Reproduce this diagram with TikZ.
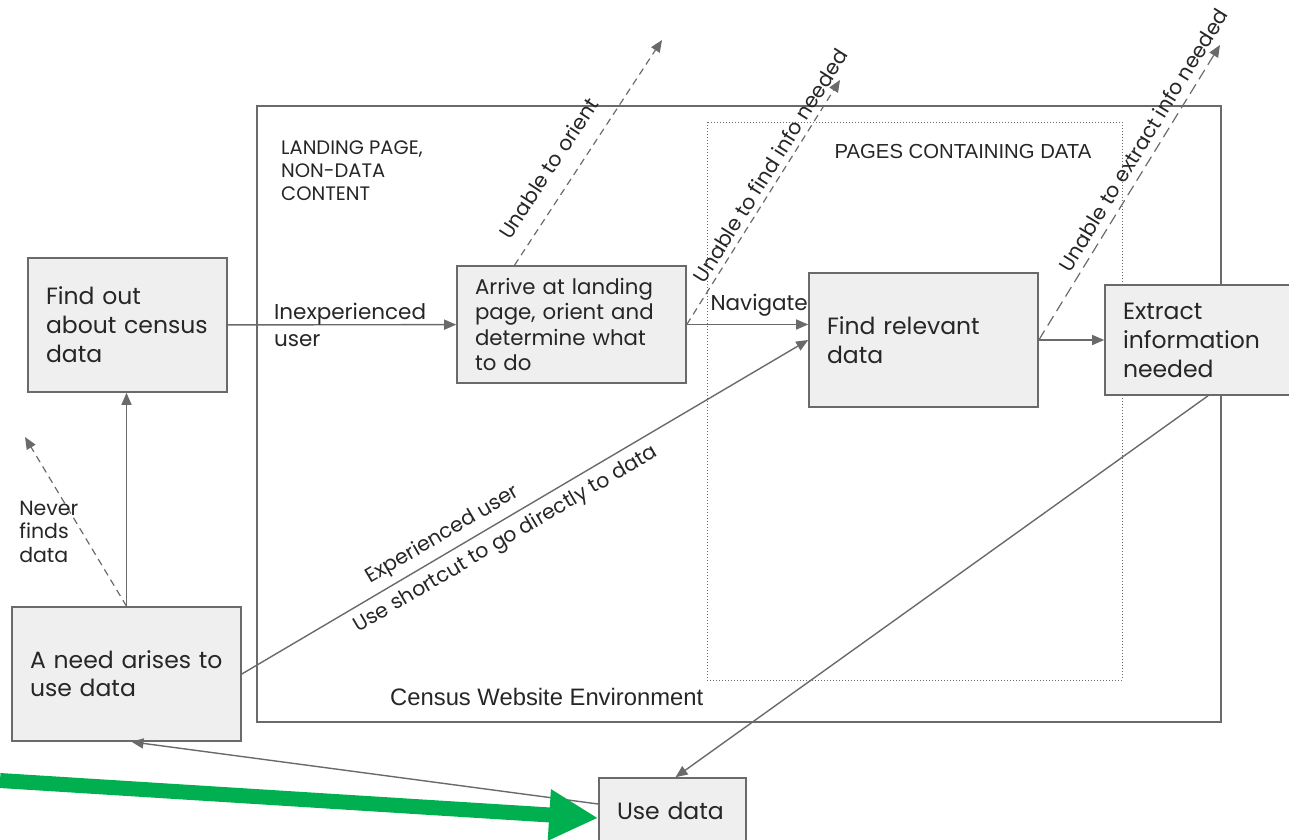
\documentclass[tikz,border=0pt]{standalone}
\usepackage{fontspec}
\setmainfont{Poppins}
\newfontfamily\arialfont{Liberation Sans}
\usetikzlibrary{arrows.meta,positioning}
\definecolor{boxfill}{HTML}{EFEFEF}
\definecolor{linegray}{HTML}{6A6A6A}
\definecolor{arrowgreen}{HTML}{00B050}
\begin{document}
\begin{tikzpicture}[x=1pt,y=-1pt,
  stepbox/.style={draw=linegray,line width=1.6pt,fill=boxfill,align=left,inner xsep=18pt,inner ysep=0pt,text=black!85,font=\fontsize{23.5}{29}\selectfont},
  flow/.style={draw=linegray,line width=1.4pt,-{Triangle[length=12pt,width=10pt]}},
  fail/.style={flow,line width=1.2pt,dash pattern=on 7pt off 5pt},
  tag/.style={text=black!85,font=\fontsize{21.5}{27}\selectfont},
  slant/.style={text=black!85,font=\fontsize{20.5}{23.5}\selectfont}]
\useasboundingbox (0,0) rectangle (1289,839);
\draw[linegray,line width=1.6pt] (257,106) rectangle (1221,722);
\draw[linegray,dotted,line width=1pt] (707,122) rectangle (1122,680);
\node[slant,align=left,anchor=north west,inner sep=0pt,font=\fontsize{19.5}{23}\selectfont] (landing) at (281,141) {LANDING PAGE,\\NON-DATA\\CONTENT};
\node[text=black!85,font=\arialfont\fontsize{20.3}{24}\selectfont] (pages) at (963,152) {PAGES CONTAINING DATA};
\node[text=black!85,font=\arialfont\fontsize{23.8}{28}\selectfont,anchor=west,inner sep=0pt] (website) at (390,697) {Census Website Environment};

\node[stepbox,text width=163pt,minimum height=134pt] (find) at (127.5,325) {Find out\\about census\\data};
\node[stepbox,text width=193pt,minimum height=117pt,font=\fontsize{21.3}{25.5}\selectfont] (arrive) at (571.5,324.5) {Arrive at landing\\page, orient and\\determine what\\to do};
\node[stepbox,text width=193pt,minimum height=134pt] (relevant) at (923.5,340) {Find relevant\\data};
\node[stepbox,text width=154pt,minimum height=110pt] (extract) at (1200,340) {Extract\\information\\needed};
\node[stepbox,text width=193pt,minimum height=134pt,font=\fontsize{23.5}{28}\selectfont] (need) at (126.5,674) {A need arises to\\use data};
\node[stepbox,text width=111pt,minimum height=66pt] (use) at (672.5,811) {Use data};

\coordinate (lost) at (25,437);
\coordinate (orientend) at (662,40);
\coordinate (findend) at (840,80);
\coordinate (extractend) at (1220,45);
\coordinate (greenstart) at (0,780.5);

\draw[flow] (find) -- node[tag,pos=0.2,anchor=west,align=left,inner sep=0pt] {Inexperienced\\user} (arrive);
\draw[flow] (arrive.east) -- node[tag,pos=0.19,anchor=south west,inner sep=0pt,yshift=8pt] {Navigate} (arrive.east -| relevant.west);
\draw[flow] (relevant) -- (extract);
\draw[flow] ([xshift=8pt]extract.south) -- ([xshift=3pt]use.north);
\draw[flow] ([yshift=7pt]use.west) -- ([xshift=5pt]need.south);
\draw[flow] (need.north) -- (need.north |- find.south);
\draw[flow] (need.east) -- node[slant,pos=0.37,above=3pt,sloped] {Experienced user} node[slant,pos=0.45,below=4pt,sloped] {Use shortcut to go directly to data} (relevant.west);

\draw[fail] (need.north) -- node[slant,pos=0.44,anchor=east,align=left,inner sep=3pt] {Never\\finds\\data} (lost);
\draw[fail] ([xshift=-57pt]arrive.north) -- node[slant,pos=0.37,above=13pt,sloped] {Unable to orient} (orientend);
\draw[fail] (arrive.east) -- node[slant,pos=0.62,above=2pt,sloped] {Unable to find info needed} (findend);
\draw[fail,dash pattern=on 11pt off 6pt] (relevant.east) -- node[slant,pos=0.65,above=4pt,sloped] {Unable to extract info needed} (extractend);

\draw[arrowgreen,line width=15pt,-{Triangle[length=49pt,width=48pt]}] (greenstart) -- ([yshift=-7pt]use.west);
\end{tikzpicture}
\end{document}
